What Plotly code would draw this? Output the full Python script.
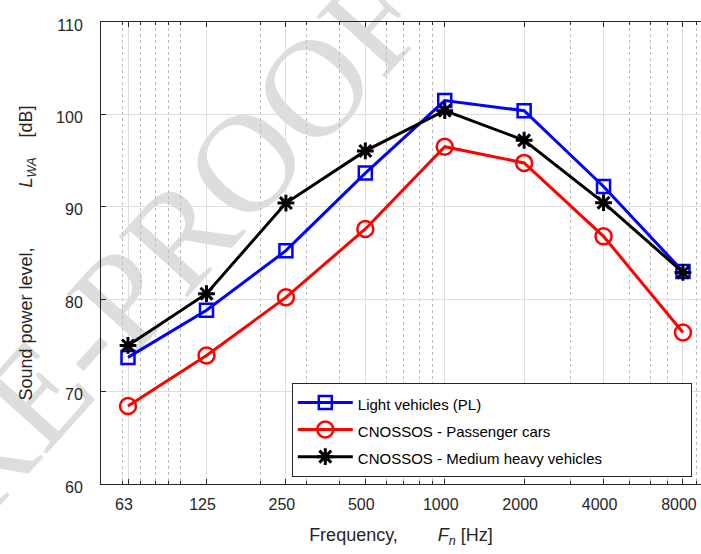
import plotly.graph_objects as go

# ---- data ----
freq = [63, 125, 250, 500, 1000, 2000, 4000, 8000]
freq_labels = ["63", "125", "250", "500", "1000", "2000", "4000", "8000"]
light_pl = [73.7, 78.8, 85.25, 93.65, 101.5, 100.4, 92.2, 83.0]
cn_passenger = [68.45, 73.9, 80.2, 87.6, 96.5, 94.75, 86.8, 76.4]
cn_medium = [75.0, 80.6, 90.4, 96.05, 100.4, 97.2, 90.45, 82.9]
minor_ticks = [60, 70, 80, 90, 100, 200, 300, 400, 600, 700, 800, 900,
               3000, 5000, 6000, 7000, 9000]
y_ticks = [60, 70, 80, 90, 100, 110]

names = ["Light vehicles (PL)", "CNOSSOS - Passenger cars",
         "CNOSSOS - Medium heavy vehicles"]

FONT = "Liberation Sans, Arial, sans-serif"
AX = "#262626"

def leg(n, pad=0):
    s = '<span style="font-size:15px">' + n
    if pad:
        s += "\u00a0" * pad + '<span style="color:rgba(0,0,0,0)">.</span>'
    return s + "</span>"

fig = go.Figure()
fig.add_trace(go.Scatter(
    x=freq, y=light_pl, name=leg(names[0]), mode="lines+markers",
    line=dict(color="#0000ff", width=3),
    marker=dict(symbol="square-open", size=13, color="#0000ff", line=dict(width=2.5))))
fig.add_trace(go.Scatter(
    x=freq, y=cn_passenger, name=leg(names[1]), mode="lines+markers",
    line=dict(color="#ff0000", width=3),
    marker=dict(symbol="circle-open", size=16, color="#ff0000", line=dict(width=2.5))))
fig.add_trace(go.Scatter(
    x=freq, y=cn_medium, name=leg(names[2], 19), mode="lines+markers",
    line=dict(color="#000000", width=3),
    marker=dict(symbol="asterisk-open", size=14, color="#000000", line=dict(width=3))))

fig.update_xaxes(
    type="log", range=[1.69699, 3.97149],
    tickmode="array", tickvals=freq, ticktext=freq_labels,
    ticks="inside", ticklen=5, tickcolor=AX, tickwidth=1,
    showline=True, linecolor=AX, linewidth=1, mirror="ticks",
    showgrid=True, gridcolor="#dedede", gridwidth=1,
    zeroline=False,
    tickfont=dict(family=FONT, size=16, color=AX),
    ticklabelstandoff=6, ticklabelshift=-4,
    minor=dict(tickmode="array", tickvals=minor_ticks, ticks="inside", ticklen=3,
               tickcolor=AX, showgrid=True, griddash="dot", gridcolor="#bdbdbd",
               gridwidth=1),
    title=dict(text="Frequency," + "\u00a0" * 8 + "<i>F</i><sub><i>n</i></sub> [Hz]",
               font=dict(family=FONT, size=18, color=AX), standoff=16),
)
fig.update_yaxes(
    range=[60, 110], tickmode="array", tickvals=y_ticks,
    ticks="inside", ticklen=5, tickcolor=AX,
    showline=True, linecolor=AX, linewidth=1, mirror=False,
    showgrid=True, gridcolor="#dedede", gridwidth=1, zeroline=False,
    tickfont=dict(family=FONT, size=16, color=AX),
    ticklabelstandoff=14, ticklabelshift=3,
    title=dict(text="Sound power level," + "\u00a0" * 12 + "<i>L</i><sub><i>WA</i></sub>"
               + "\u00a0" * 4 + "[dB]",
               font=dict(family=FONT, size=18, color=AX), standoff=18),
)

# watermark centre in paper coordinates
wm_x, wm_y = 0.0567, 0.4805
fig.update_layout(
    width=701, height=554,
    margin=dict(l=101, r=0, t=22, b=70),
    paper_bgcolor="white", plot_bgcolor="white",
    font=dict(family=FONT, color=AX),
    showlegend=True,
    legend=dict(x=0.318, y=0.2186, xanchor="left", yanchor="top",
                bgcolor="white", bordercolor=AX, borderwidth=1,
                font=dict(family=FONT, size=18.5, color="#000000"),
                itemwidth=55, tracegroupgap=0),
    shapes=[dict(type="rect", xref="paper", yref="paper", layer="below",
                 x0=wm_x - 0.05, x1=wm_x + 0.05, y0=wm_y - 0.05, y1=wm_y + 0.05,
                 line=dict(width=0), fillcolor="rgba(0,0,0,0)",
                 label=dict(text="PRE-PROOF", textangle=-48,
                            textposition="middle center",
                            font=dict(family="Liberation Serif, Times New Roman, serif",
                                      size=140, color="#dddddd")))],
)

fig.write_html("out.html")
